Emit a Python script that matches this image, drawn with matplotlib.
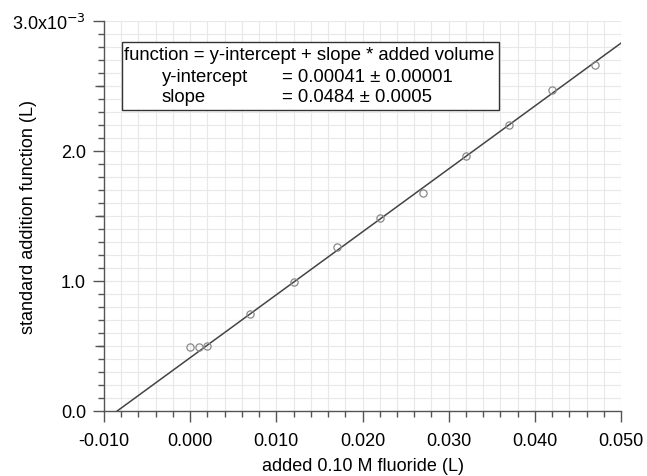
import matplotlib
matplotlib.use("Agg")
import matplotlib.pyplot as plt
import numpy as np
from matplotlib.ticker import MultipleLocator, FixedLocator, FixedFormatter, NullFormatter
from matplotlib.patches import Rectangle

plt.rcParams['font.family'] = ['Liberation Sans', 'DejaVu Sans']

added_volume = [0.000, 0.001, 0.002, 0.007, 0.012, 0.017, 0.022, 0.027, 0.032, 0.037, 0.042, 0.047]
sa_function = [0.49e-3, 0.49e-3, 0.50e-3, 0.745e-3, 0.99e-3, 1.26e-3, 1.485e-3, 1.675e-3, 1.96e-3, 2.20e-3, 2.47e-3, 2.665e-3]
intercept = 0.00041
slope = 0.0484
x_ticks = [-0.010, 0.000, 0.010, 0.020, 0.030, 0.040, 0.050]
x_ticklabels = ["-0.010", "0.000", "0.010", "0.020", "0.030", "0.040", "0.050"]
y_ticks = [0.0, 1.0e-3, 2.0e-3, 3.0e-3]
y_ticklabels = ["0.0", "1.0", "2.0", r"3.0x10$^{-3}$"]
y_mid_ticks = [0.5e-3, 1.5e-3, 2.5e-3]

FS = 13
FS_BOX = 13.3
W, H = 647, 477
fig = plt.figure(figsize=(W/100, H/100), dpi=100)
ax = fig.add_axes([104/W, 1-412/H, (621-104)/W, (412-22)/H])

ax.set_xlim(-0.010, 0.050)
ax.set_ylim(0.0, 3.0e-3)

ax.xaxis.set_major_locator(FixedLocator(x_ticks))
ax.xaxis.set_major_formatter(FixedFormatter(x_ticklabels))
ax.xaxis.set_minor_locator(MultipleLocator(0.002))
ax.yaxis.set_major_locator(FixedLocator(y_ticks))
ax.yaxis.set_major_formatter(FixedFormatter(y_ticklabels))
ax.yaxis.set_minor_locator(MultipleLocator(0.1e-3))

ax.grid(True, which='both', color='#e8e8e8', linewidth=0.8)
ax.set_axisbelow(True)

for s in ['top', 'right']:
    ax.spines[s].set_visible(False)
for s in ['left', 'bottom']:
    ax.spines[s].set_color('#555555')
    ax.spines[s].set_linewidth(1.0)

ax.tick_params(which='major', direction='out', length=8, width=1.0, color='#555555', labelsize=FS)
ax.tick_params(which='minor', direction='out', length=4, width=1.0, color='#555555')
ax.tick_params(axis='x', which='major', pad=7)
ax.tick_params(axis='y', which='major', pad=5)

# medium-length ticks at half-decades on the y axis
sec = ax.secondary_yaxis('left')
sec.yaxis.set_major_locator(FixedLocator(y_mid_ticks))
sec.yaxis.set_major_formatter(NullFormatter())
sec.tick_params(direction='out', length=6.5, width=1.0, color='#555555')
sec.spines['left'].set_visible(False)

xl = np.array([-intercept/slope, 0.050])
ax.plot(xl, intercept + slope*xl, color='#444444', linewidth=1.1, zorder=3)
ax.plot(added_volume, sa_function, linestyle='none', marker='o', markersize=5.2,
        markerfacecolor='none', markeredgecolor='#8a8a8a', markeredgewidth=0.9, zorder=4)

ax.set_xlabel("added 0.10 M fluoride (L)", fontsize=FS)
ax.xaxis.set_label_coords(0.5, -(458-412)/390)
ax.set_ylabel("standard addition function (L)", fontsize=FS)
ax.yaxis.set_label_coords(-(104-37)/517, 0.5)

fig.patches.append(Rectangle((122/W, 1-111/H), (499-122)/W, (111-43)/H, transform=fig.transFigure,
                             facecolor='white', edgecolor='#333333', linewidth=1.0, zorder=5))
fig.text(124/W, 1-56/H, "function = y-intercept + slope * added volume", fontsize=FS_BOX, va='center', zorder=6)
fig.text(162/W, 1-77/H, "y-intercept", fontsize=FS_BOX, va='center', zorder=6)
fig.text(282/W, 1-77/H, "= 0.00041 \u00b1 0.00001", fontsize=FS_BOX, va='center', zorder=6)
fig.text(162/W, 1-98/H, "slope", fontsize=FS_BOX, va='center', zorder=6)
fig.text(282/W, 1-98/H, "= 0.0484 \u00b1 0.0005", fontsize=FS_BOX, va='center', zorder=6)

fig.savefig("out.png", dpi=100)
